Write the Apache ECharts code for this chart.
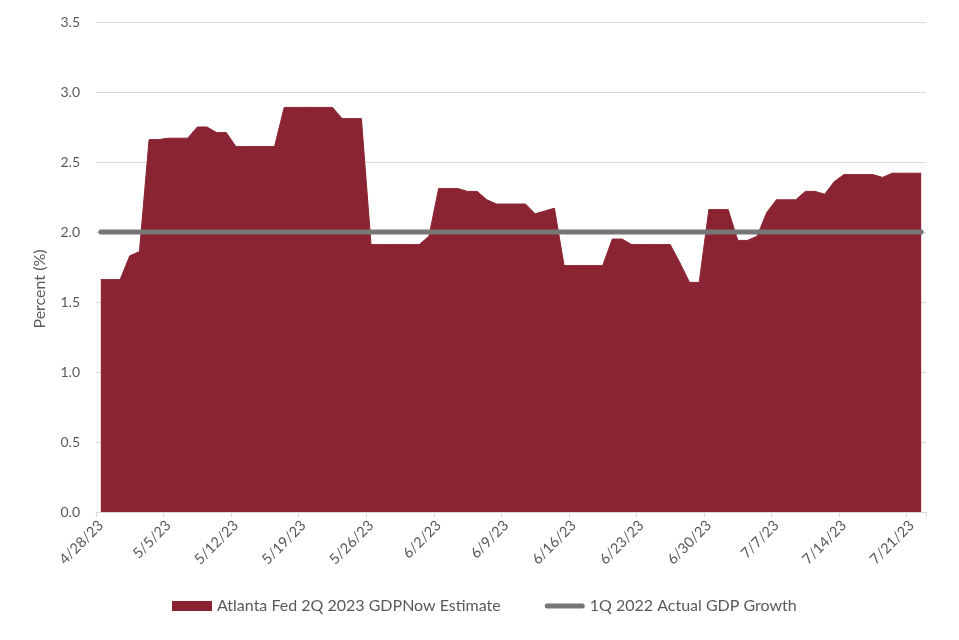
<!DOCTYPE html>
<html>
<head>
<meta charset="utf-8">
<script src="https://cdn.jsdelivr.net/npm/echarts@6/dist/echarts.min.js"></script>
<style>html,body{margin:0;padding:0;background:#fff;}#chart{width:959px;height:640px;}</style>
</head>
<body>
<div id="chart"></div>
<script>
const dates = [
 '4/28/23','4/29/23','4/30/23',
 '5/1/23','5/2/23','5/3/23','5/4/23','5/5/23','5/6/23','5/7/23','5/8/23','5/9/23','5/10/23',
 '5/11/23','5/12/23','5/13/23','5/14/23','5/15/23','5/16/23','5/17/23','5/18/23','5/19/23','5/20/23',
 '5/21/23','5/22/23','5/23/23','5/24/23','5/25/23','5/26/23','5/27/23','5/28/23','5/29/23','5/30/23','5/31/23',
 '6/1/23','6/2/23','6/3/23','6/4/23','6/5/23','6/6/23','6/7/23','6/8/23','6/9/23','6/10/23',
 '6/11/23','6/12/23','6/13/23','6/14/23','6/15/23','6/16/23','6/17/23','6/18/23','6/19/23','6/20/23',
 '6/21/23','6/22/23','6/23/23','6/24/23','6/25/23','6/26/23','6/27/23','6/28/23','6/29/23','6/30/23',
 '7/1/23','7/2/23','7/3/23','7/4/23','7/5/23','7/6/23','7/7/23','7/8/23','7/9/23','7/10/23',
 '7/11/23','7/12/23','7/13/23','7/14/23','7/15/23','7/16/23','7/17/23','7/18/23','7/19/23','7/20/23',
 '7/21/23','7/22/23'
];
const gdpNow = [
 1.66,1.66,1.66,
 1.83,1.86,2.66,2.66,2.67,2.67,2.67,2.75,2.75,2.71,
 2.71,2.61,2.61,2.61,2.61,2.61,2.89,2.89,2.89,2.89,
 2.89,2.89,2.81,2.81,2.81,1.91,1.91,1.91,1.91,1.91,1.91,
 1.97,2.31,2.31,2.31,2.29,2.29,2.23,2.20,2.20,2.20,
 2.20,2.13,2.15,2.17,1.76,1.76,1.76,1.76,1.76,1.95,
 1.95,1.91,1.91,1.91,1.91,1.91,1.78,1.64,1.64,2.16,
 2.16,2.16,1.94,1.94,1.97,2.14,2.23,2.23,2.23,2.29,
 2.29,2.27,2.36,2.41,2.41,2.41,2.41,2.39,2.42,2.42,
 2.42,2.42
];
const actualGdp = dates.map(() => 2.0);
const seriesNames = ['Atlanta Fed 2Q 2023 GDPNow Estimate', '1Q 2022 Actual GDP Growth'];
const yTitle = 'Percent (%)';

const font = 'Lato, "Noto Sans", sans-serif';
const txt = '#595959';
const chart = echarts.init(document.getElementById('chart'), null, {renderer: 'canvas'});
chart.setOption({
  animation: false,
  backgroundColor: '#ffffff',
  textStyle: {fontFamily: font},
  grid: {left: 96, right: 33, top: 22, bottom: 128, containLabel: false},
  legend: {
    bottom: 21, left: 167, itemGap: 44, itemWidth: 40, itemHeight: 10,
    textStyle: {color: txt, fontSize: 16, fontFamily: font},
    data: [
      {name: seriesNames[0], icon: 'rect'},
      {name: seriesNames[1], icon: 'path://M2.5,0 L37.5,0 A2.5,2.5 0 0 1 37.5,5 L2.5,5 A2.5,2.5 0 0 1 2.5,0 Z'}
    ]
  },
  xAxis: {
    type: 'category', data: dates, boundaryGap: true,
    axisLine: {show: true, lineStyle: {color: '#d9d9d9', width: 1}},
    axisTick: {show: true, interval: 6, length: 5, lineStyle: {color: '#d9d9d9'}},
    axisLabel: {interval: 6, rotate: 45, margin: 11, color: txt, fontSize: 14.5, fontFamily: font},
    splitLine: {show: false}
  },
  yAxis: {
    type: 'value', min: 0, max: 3.5, interval: 0.5,
    name: yTitle, nameLocation: 'middle', nameGap: 48, nameRotate: 90,
    nameTextStyle: {color: txt, fontSize: 16, fontFamily: font, padding: [0, 44, 0, 0]},
    axisLine: {show: false}, axisTick: {show: false},
    axisLabel: {color: txt, fontSize: 14, margin: 16, formatter: v => v.toFixed(1)},
    splitLine: {lineStyle: {color: '#d9d9d9', width: 1}}
  },
  series: [
    {
      name: seriesNames[0], type: 'line', data: gdpNow, symbol: 'none', showSymbol: false,
      itemStyle: {color: '#8a2432'},
      lineStyle: {color: '#8a2432', width: 1},
      areaStyle: {color: '#8a2432', opacity: 1},
      z: 2
    },
    {
      name: seriesNames[1], type: 'line', data: actualGdp, symbol: 'none', showSymbol: false,
      itemStyle: {color: '#767676'},
      lineStyle: {color: '#767676', width: 5, cap: 'round'},
      z: 3
    }
  ]
});
</script>
</body>
</html>
